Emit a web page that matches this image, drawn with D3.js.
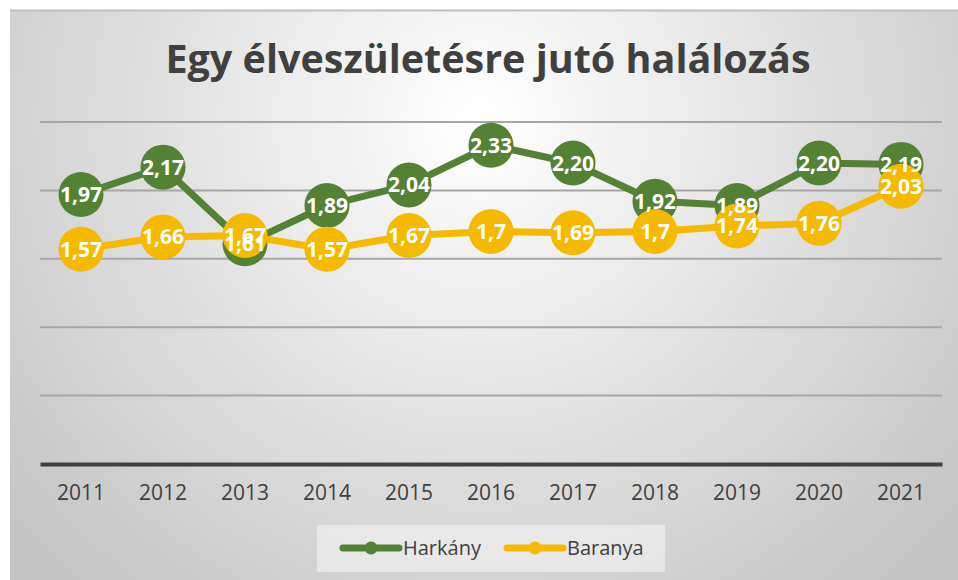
<!DOCTYPE html>
<html>
<head>
<meta charset="utf-8">
<script src="https://cdn.jsdelivr.net/npm/d3@7"></script>
<style>
  body { margin: 0; background: #fff; }
  svg { display: block; font-family: "Open Sans", Lato, sans-serif; }
</style>
</head>
<body>
<script>
// data
var years = ["2011", "2012", "2013", "2014", "2015", "2016", "2017", "2018", "2019", "2020", "2021"];
var harkany = [1.97, 2.17, 1.61, 1.89, 2.04, 2.33, 2.20, 1.92, 1.89, 2.20, 2.19];
var baranya = [1.57, 1.66, 1.67, 1.57, 1.67, 1.70, 1.69, 1.70, 1.74, 1.76, 2.03];
// labels as shown in the chart (Baranya drops trailing zeros)
var harkanyLabels = ["1,97", "2,17", "1,61", "1,89", "2,04", "2,33", "2,20", "1,92", "1,89", "2,20", "2,19"];
var baranyaLabels = ["1,57", "1,66", "1,67", "1,57", "1,67", "1,7", "1,69", "1,7", "1,74", "1,76", "2,03"];
var yTicks = [0, 0.5, 1, 1.5, 2, 2.5];

var series = [
  { name: "Harkány", values: harkany, labels: harkanyLabels, color: "#548235" },
  { name: "Baranya", values: baranya, labels: baranyaLabels, color: "#F5B900" }
];

var W = 958, H = 580;
var plot = { left: 40, right: 942, top: 122, bottom: 464 };

var svg = d3.select("body").append("svg")
  .attr("width", W)
  .attr("height", H);

// background gradient
var defs = svg.append("defs");
var grad = defs.append("radialGradient")
  .attr("id", "bg")
  .attr("gradientUnits", "userSpaceOnUse")
  .attr("cx", 480).attr("cy", 120).attr("r", 620);
grad.append("stop").attr("offset", "0%").attr("stop-color", "#ffffff");
grad.append("stop").attr("offset", "100%").attr("stop-color", "#c4c4c4");

svg.append("rect")
  .attr("x", 10).attr("y", 10)
  .attr("width", W - 10).attr("height", H - 10)
  .attr("fill", "url(#bg)");
svg.append("line")
  .attr("x1", 10).attr("x2", W).attr("y1", 10.5).attr("y2", 10.5)
  .attr("stroke", "#bfbfbf").attr("stroke-width", 2);

// title
svg.append("text")
  .attr("x", 488).attr("y", 73)
  .attr("text-anchor", "middle")
  .attr("font-size", 39.5)
  .attr("font-weight", "bold")
  .attr("fill", "#404040")
  .text("Egy élveszületésre jutó halálozás");

// scales
var x = d3.scaleBand()
  .domain(years)
  .range([plot.left, plot.right]);
var y = d3.scaleLinear()
  .domain([0, 2.5])
  .range([plot.bottom, plot.top]);

// gridlines
svg.append("g")
  .selectAll("line")
  .data(yTicks.filter(function(d) { return d > 0; }))
  .enter().append("line")
  .attr("x1", plot.left).attr("x2", plot.right)
  .attr("y1", function(d) { return y(d); })
  .attr("y2", function(d) { return y(d); })
  .attr("stroke", "#a6a6a6")
  .attr("stroke-width", 2);

// x axis
var xAxis = svg.append("g")
  .attr("transform", "translate(0," + plot.bottom + ")")
  .call(d3.axisBottom(x).tickSize(0).tickPadding(21));
xAxis.select(".domain")
  .attr("stroke", "#404040")
  .attr("stroke-width", 4);
xAxis.selectAll("text")
  .attr("font-family", "'Open Sans', sans-serif")
  .attr("font-size", 21)
  .attr("fill", "#404040");

var line = d3.line()
  .x(function(d, i) { return x(years[i]) + x.bandwidth() / 2; })
  .y(function(d) { return y(d); });

// lines and markers
series.forEach(function(s) {
  svg.append("path")
    .datum(s.values)
    .attr("d", line)
    .attr("fill", "none")
    .attr("stroke", s.color)
    .attr("stroke-width", 7)
    .attr("stroke-linejoin", "round");
  svg.append("g")
    .selectAll("circle")
    .data(s.values)
    .enter().append("circle")
    .attr("cx", function(d, i) { return x(years[i]) + x.bandwidth() / 2; })
    .attr("cy", function(d) { return y(d); })
    .attr("r", 22.5)
    .attr("fill", s.color);
});

// data labels
series.forEach(function(s) {
  svg.append("g")
    .selectAll("text")
    .data(s.values)
    .enter().append("text")
    .attr("x", function(d, i) { return x(years[i]) + x.bandwidth() / 2; })
    .attr("y", function(d) { return y(d) + 7.5; })
    .attr("text-anchor", "middle")
    .attr("font-size", 21)
    .attr("font-weight", "bold")
    .attr("fill", "#ffffff")
    .text(function(d, i) { return s.labels[i]; });
});

// legend
var legend = svg.append("g");
legend.append("rect")
  .attr("x", 317).attr("y", 525)
  .attr("width", 348).attr("height", 47)
  .attr("fill", "#ffffff").attr("fill-opacity", 0.45);

var legendPos = [343, 507];
series.forEach(function(s, i) {
  var lx = legendPos[i];
  legend.append("line")
    .attr("x1", lx).attr("x2", lx + 56)
    .attr("y1", 548).attr("y2", 548)
    .attr("stroke", s.color)
    .attr("stroke-width", 7)
    .attr("stroke-linecap", "round");
  legend.append("circle")
    .attr("cx", lx + 28).attr("cy", 548)
    .attr("r", 6.5)
    .attr("fill", s.color);
  legend.append("text")
    .attr("x", lx + 60).attr("y", 555)
    .attr("font-size", 20)
    .attr("fill", "#404040")
    .text(s.name);
});
</script>
</body>
</html>
